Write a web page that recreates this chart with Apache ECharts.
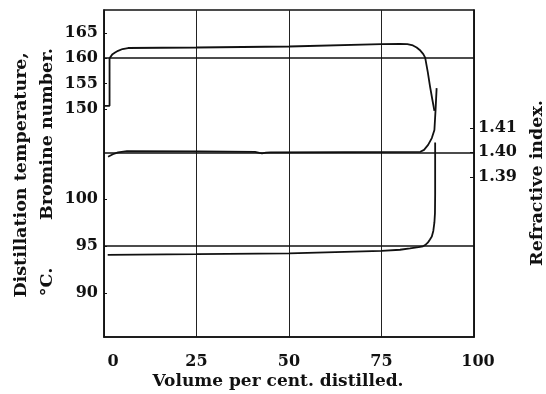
<!DOCTYPE html>
<html>
<head>
<meta charset="utf-8">
<script src="https://cdn.jsdelivr.net/npm/echarts@6/dist/echarts.min.js"></script>
<style>
html,body{margin:0;padding:0;background:#fff;}
#c{width:546px;height:394px;}
</style>
</head>
<body>
<div id="c"></div>
<script>
// Data: [volume % distilled, value]
var temperature = [
  [0,150.6],[1.5,150.6],[1.5,160.0],[2.2,160.7],[3.0,161.1],[3.8,161.45],[5.0,161.8],[6.5,162.0],
  [25,162.1],[50,162.3],[75,162.75],[80,162.8],[82,162.75],[83.5,162.5],[84.5,162.1],[85.5,161.5],
  [86.3,160.8],[86.8,160.1],[87.5,157.3],[88.1,154.5],[88.7,152.0],[89.3,149.6]
];
var bromine = [
  [1,94.05],[25,94.13],[50,94.22],[75,94.47],[80,94.6],[82.7,94.75],[85,94.88],[86.2,94.97],
  [86.8,95.1],[87.5,95.35],[88.1,95.7],[88.6,96.0],[89.0,96.6],[89.3,97.5],[89.45,98.5],[89.5,100.5],[89.5,106.0]
];
var refractive = [
  [1.1,1.3982],[2.4,1.3992],[3.8,1.4000],[6.2,1.4005],[26,1.4004],[40.8,1.4002],[42,1.3998],
  [42.7,1.3996],[43.8,1.3999],[45,1.4000],[85.5,1.4002],[86.5,1.4010],[87.6,1.4030],[88.6,1.4058],
  [89.3,1.4091],[89.6,1.4170],[89.9,1.4262]
];
var xTicks = [0,25,50,75,100];
var tempTicks = [150,155,160,165];
var bromineTicks = [90,95,100];
var refractiveTicks = [1.39,1.40,1.41];
var refLines = {temperature:160, bromine:95, refractive:1.40};

var FONT = 'DejaVu Serif';
var INK = '#111';
var chart = echarts.init(document.getElementById('c'), null, {renderer:'canvas'});

function mk(v){
  return {silent:true, symbol:['none','none'], label:{show:false},
    lineStyle:{color:INK, width:1.5, type:'solid'}, data:[{yAxis:v}], animation:false};
}
var labelStyle = {color:INK, fontFamily:FONT, fontSize:16, fontWeight:'bold'};
function titleStyle(t, size){
  return {text:t, fontFamily:FONT, fontSize:size, fontWeight:'bold', fill:INK, textAlign:'center', textVerticalAlign:'middle'};
}

chart.setOption({
  animation:false,
  backgroundColor:'#fff',
  grid:{left:104, right:72, top:10, bottom:57, show:true, borderColor:INK, borderWidth:1.5},
  xAxis:{
    type:'value', min:0, max:100, interval:25,
    axisLine:{show:true, lineStyle:{color:INK, width:1.5}},
    axisTick:{show:false},
    splitLine:{show:true, lineStyle:{color:'#222', width:1}},
    axisLabel:Object.assign({margin:17,
      formatter:function(v){ if(v===0) return '{a|0}'; if(v===100) return '{b|100}'; return String(v); },
      rich:{a:{padding:[0,0,0,18], fontFamily:FONT, fontSize:16, fontWeight:'bold', color:INK},
            b:{padding:[0,0,0,8], fontFamily:FONT, fontSize:16, fontWeight:'bold', color:INK}},
      customValues:xTicks}, labelStyle)
  },
  yAxis:[
    {type:'value', position:'left', min:105, max:169.5,
      axisLine:{show:true, lineStyle:{color:INK, width:1.5}},
      axisTick:{show:true, inside:true, length:3, customValues:tempTicks, lineStyle:{color:INK}},
      splitLine:{show:false},
      axisLabel:Object.assign({margin:6, customValues:tempTicks}, labelStyle)},
    {type:'value', position:'left', min:85.32, max:120.1,
      axisLine:{show:false},
      axisTick:{show:true, inside:true, length:3, customValues:bromineTicks, lineStyle:{color:INK}},
      splitLine:{show:false},
      axisLabel:Object.assign({margin:6, customValues:bromineTicks}, labelStyle)},
    {type:'value', position:'right', min:1.32461, max:1.45808,
      axisLine:{show:true, lineStyle:{color:INK, width:1.5}},
      axisTick:{show:true, inside:true, length:4, customValues:refractiveTicks, lineStyle:{color:INK}},
      splitLine:{show:false},
      axisLabel:Object.assign({margin:4, customValues:refractiveTicks,
        formatter:function(v){return v.toFixed(2);}}, labelStyle)}
  ],
  series:[
    {name:'Distillation temperature', type:'line', yAxisIndex:0, data:temperature, showSymbol:false,
      lineStyle:{color:INK, width:1.8}, markLine:mk(refLines.temperature), z:3},
    {name:'Bromine number', type:'line', yAxisIndex:1, data:bromine, showSymbol:false,
      lineStyle:{color:INK, width:1.8}, markLine:mk(refLines.bromine), z:3},
    {name:'Refractive index', type:'line', yAxisIndex:2, data:refractive, showSymbol:false,
      lineStyle:{color:INK, width:1.8}, markLine:mk(refLines.refractive), z:3}
  ],
  graphic:[
    {type:'text', x:21, y:175, rotation:Math.PI/2, style:titleStyle('Distillation temperature,', 17.5)},
    {type:'text', x:47, y:282, rotation:Math.PI/2, style:titleStyle('°C.', 17.5)},
    {type:'text', x:47, y:134, rotation:Math.PI/2, style:titleStyle('Bromine number.', 17.5)},
    {type:'text', x:537, y:183, rotation:Math.PI/2, style:titleStyle('Refractive index.', 17.5)},
    {type:'text', x:278, y:382, style:titleStyle('Volume per cent. distilled.', 17)}
  ]
});
</script>
</body>
</html>
